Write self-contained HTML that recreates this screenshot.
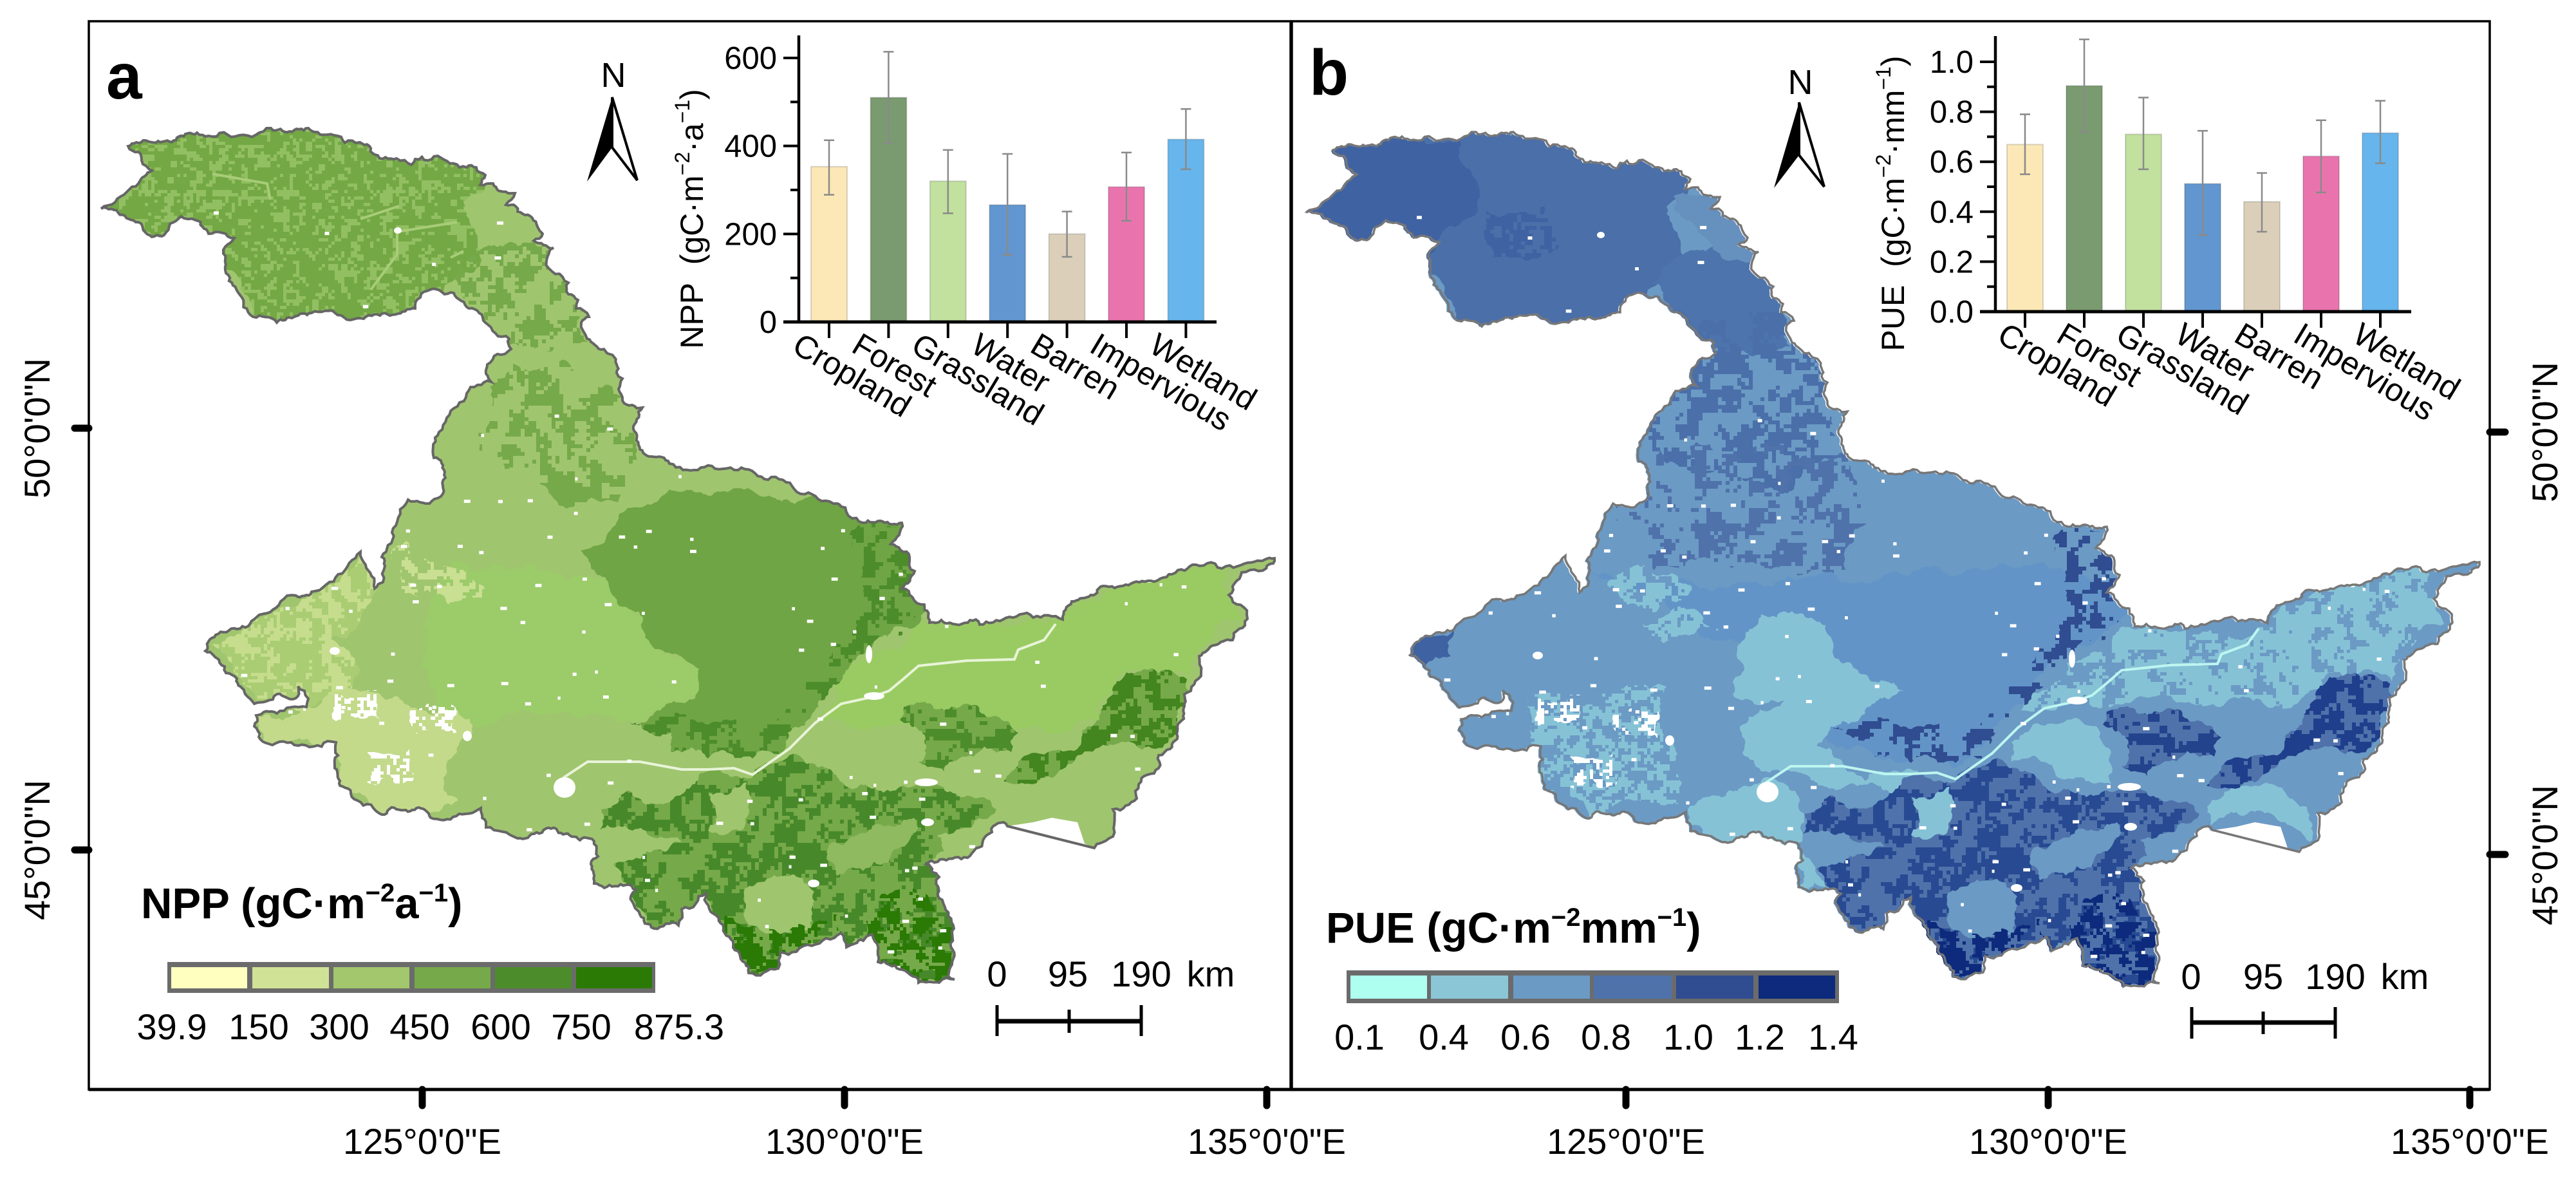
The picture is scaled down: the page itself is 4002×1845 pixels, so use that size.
<!DOCTYPE html>
<html lang="en">
<head>
<meta charset="utf-8">
<title>NPP and PUE maps</title>
<style>
html,body{margin:0;padding:0;background:#fff}
svg{display:block}
text{font-family:"Liberation Sans",sans-serif;fill:#000}
</style>
</head>
<body>
<svg id="figure" xmlns="http://www.w3.org/2000/svg" width="4002" height="1845" viewBox="0 0 4002 1845">
<defs id="geo">
<path id="region" d="M157,324L197,298L215,285L236,265L220,249L215,236L199,227L226,218L278,212L306,206L324,211L372,210L421,199L479,199L519,210L536,222L559,221L582,240L616,246L639,256L645,247L685,245L725,260L740,260L754,272L746,287L766,285L789,300L800,300L786,318L812,332L835,352L843,363L829,374L860,385L849,405L883,439L883,457L898,466L895,479L915,492L903,501L912,526L958,566L967,588L961,604L967,622L998,633L984,662L992,691L1012,709L1040,720L1084,730L1173,735L1256,765L1301,782L1341,812L1401,812L1384,845L1413,865L1421,887L1401,914L1436,939L1444,967L1516,962L1522,970L1605,959L1651,962L1665,934L1714,910L1783,902L1858,877L1950,872L1980,867L1978,875L1929,889L1909,924L1938,961L1915,994L1863,1019L1866,1044L1840,1078L1829,1136L1818,1163L1800,1173L1800,1193L1769,1218L1766,1240L1729,1257L1723,1302L1700,1317L1565,1283L1559,1277L1533,1297L1510,1325L1439,1342L1459,1362L1482,1442L1473,1516L1483,1521L1459,1526L1427,1526L1364,1494L1355,1451L1341,1461L1315,1471L1307,1449L1212,1479L1209,1504L1163,1511L1149,1481L1113,1422L1097,1387L1059,1412L1054,1437L1016,1442L980,1392L988,1382L923,1372L918,1342L929,1330L915,1302L864,1287L804,1302L755,1285L747,1255L669,1270L647,1255L593,1265L555,1243L528,1220L520,1193L522,1153L509,1151L417,1155L395,1128L398,1111L430,1108L476,1098L473,1073L463,1066L463,1081L430,1078L395,1093L381,1078L368,1054L341,1029L319,1011L335,986L398,959L436,934L484,919L560,857L568,877L582,914L595,904L598,879L593,865L609,827L631,782L634,776L671,778L688,767L691,733L674,711L682,671L694,649L725,611L763,593L757,566L794,542L791,526L754,501L705,455L668,450L645,479L582,488L565,495L484,486L430,501L393,492L372,457L347,394L350,383L364,370L324,363L304,342L281,336L255,365L226,361L215,345Z"/>
<clipPath id="region-clip"><use href="#region"/></clipPath>
<path class="zone" id="z-north" d="M140,340L190,180L700,180L760,280L720,314L737,354L748,403L714,430L691,443L700,480L640,510L400,520L330,400L250,390Z"/>
<path class="zone" id="z-neck" d="M740,390L870,385L900,470L915,530L790,535L715,455L700,430Z"/>
<path class="zone" id="z-mid" d="M790,560L880,560L970,620L990,700L960,780L880,790L800,740L745,700L760,650Z"/>
<path class="zone" id="z-center" d="M967,796L1040,760L1100,770L1180,770L1290,775L1340,805L1410,805L1430,887L1445,939L1420,975L1370,989L1318,1039L1272,1088L1255,1118L1215,1173L1169,1178L1100,1178L1043,1168L1043,1138L978,1123L1032,1098L1086,1068L1086,1039L1010,999L999,959L945,904L902,855L961,800Z"/>
<path class="zone" id="z-center-edge" d="M1320,830L1410,815L1430,887L1445,939L1370,989L1318,1039L1272,1088L1255,1118L1215,1173L1169,1178L1100,1178L1043,1168L1043,1138L978,1123L1040,1100L1100,1125L1180,1125L1250,1060L1300,1000L1340,930L1340,870Z"/>
<path class="zone" id="z-ridge-mid" d="M1404,1098L1467,1103L1525,1108L1582,1138L1571,1168L1490,1178L1467,1198L1427,1183L1439,1158L1398,1118Z"/>
<path class="zone" id="z-ridge-se" d="M1674,1163L1708,1118L1731,1064L1777,1039L1823,1044L1850,1078L1830,1138L1795,1163L1720,1158L1674,1173L1605,1218L1559,1213L1582,1183L1628,1168Z"/>
<path class="zone" id="z-forest" d="M1100,1198L1169,1208L1226,1173L1284,1193L1387,1228L1525,1238L1548,1257L1456,1297L1467,1322L1439,1342L1459,1362L1490,1442L1490,1530L1427,1530L1364,1500L1355,1451L1315,1480L1307,1449L1212,1490L1209,1515L1163,1515L1111,1422L1097,1387L1059,1412L1054,1445L1016,1445L980,1392L988,1382L953,1342L1005,1322L1059,1307L929,1292L934,1257L978,1228L1043,1243L1086,1203Z"/>
<path class="zone" id="z-forest-se" d="M1358,1402L1420,1380L1480,1420L1490,1530L1427,1530L1364,1500Z"/>
<path class="zone" id="z-forest-sw" d="M1100,1420L1160,1440L1215,1450L1300,1420L1320,1460L1210,1490L1205,1515L1160,1515Z"/>
<path class="zone" id="z-hole-1" d="M1100,1230L1160,1215L1150,1290L1100,1290Z"/>
<path class="zone" id="z-hole-2" d="M1157,1380L1220,1360L1265,1385L1260,1440L1190,1450L1155,1420Z"/>
<path class="zone" id="z-hole-3" d="M1290,1310L1360,1280L1420,1270L1380,1340L1300,1360Z"/>
<path class="zone" id="z-sw" d="M395,1113L479,1098L517,1078L625,1088L712,1103L734,1138L701,1178L690,1218L712,1243L669,1262L593,1270L528,1225L515,1153L417,1160Z"/>
<path class="zone" id="z-midnorth" d="M631,840L690,879L761,924L696,939L625,919L609,869Z"/>
<path class="zone" id="z-west" d="M330,1000L400,960L480,925L560,860L590,900L560,960L500,1000L560,1040L520,1090L400,1090L370,1050Z"/>
<path class="zone" id="z-east" d="M1267,1121L1300,1090L1342,1022L1444,967L1646,962L1721,917L1905,882L1916,942L1928,962L1864,1007L1847,1051L1780,1040L1731,1064L1708,1121Z"/>
<path class="zone" id="z-plain" d="M700,870L945,904L1010,999L1086,1039L1086,1068L1000,1121L700,1121L660,1000Z"/>
<path class="zone" id="z-urban-1" d="M520,1073L587,1073L590,1118L522,1120Z"/>
<path class="zone" id="z-urban-2" d="M636,1098L707,1098L710,1140L640,1140Z"/>
<path class="zone" id="z-urban-3" d="M566,1163L636,1163L640,1215L570,1215Z"/>
<path class="zone" id="z-b-center" d="M600,884L1430,884L1445,939L1350,1000L1290,1050L1250,1100L1180,1180L1050,1170L960,1120L1030,1080L960,990L760,960Z"/>
<path class="zone" id="z-b-strip" d="M731,298L790,290L870,385L860,410L777,360Z"/>
<path class="zone" id="z-b-band" d="M700,480L900,480L975,620L1000,700L900,760L680,720L670,640Z"/>
<path class="zone" id="z-b-blobs" d="M690,700L1000,700L1050,760L1000,880L700,880L640,800Z"/>
<path class="zone" id="z-b-nw" d="M140,340L190,210L400,205L430,300L400,340L350,390L250,380Z"/>
<path class="zone" id="z-b-nwc" d="M430,320L530,310L550,380L460,400Z"/>
<path class="zone" id="z-b-east" d="M1267,1096L1342,1022L1440,967L1646,962L1721,917L1905,882L1916,942L1928,962L1864,1007L1847,1051L1750,1037L1704,1081L1537,1086L1445,1081L1399,1091L1296,1096Z"/>
<path class="zone" id="z-b-river" d="M1256,1146L1296,1116L1388,1121L1411,1161L1411,1211L1371,1206L1319,1181L1256,1176Z"/>
<path class="zone" id="z-b-coast" d="M1560,1246L1646,1211L1715,1246L1720,1300L1675,1270L1566,1275Z"/>
<path class="zone" id="z-b-light" d="M823,1052L867,947L915,942L975,982L991,1022L1040,1052L1089,1066L1040,1086L975,1121L953,1151L986,1171L1029,1206L1110,1190L1130,1225L920,1191L867,1191L834,1121L904,1081L823,1071Z"/>
<path class="zone" id="z-b-strip2" d="M753,1250L856,1211L920,1221L931,1300L920,1320L926,1375L975,1370L948,1335L791,1300L753,1275Z"/>
<path class="zone" id="z-b-mid1" d="M628,902L693,878L758,902L747,927L660,932Z"/>
<path class="zone" id="z-b-mid2" d="M682,962L769,942L823,972L715,992Z"/>
<path class="zone" id="z-b-swmix" d="M510,1070L720,1060L730,1180L740,1240L600,1260L525,1210L510,1150Z"/>
<path class="zone" id="z-b-far" d="M319,1012L341,982L390,972L385,1012L346,1032Z"/>
<path id="river" d="M1640,969L1622,994L1582,1009L1576,1024L1502,1026L1427,1034L1404,1054L1381,1073L1353,1083L1307,1093L1266,1123L1226,1163L1169,1203L1140,1193L1100,1195L1059,1195L994,1183L913,1183L875,1208"/>
<path id="bay" d="M1565,1283L1605,1277L1634,1270L1674,1277L1685,1310L1700,1317Z"/>
</defs>

<rect width="4002" height="1845" fill="#fff"/>

<g id="panel-a">
  <g>
    <g clip-path="url(#region-clip)">
      <rect x="100" y="150" width="1950" height="1450" fill="#a0c56f"/>
      <use href="#z-east" fill="#9acb63"/>
      <use href="#z-plain" fill="#9ccb69"/>
      <use href="#z-north" fill="#73a845"/>
      <path class="mottle" data-zone="z-north" data-cell="5" data-scale="9" data-thr="0.58" data-seed="11" fill="#92bf62"/>
      <path class="mottle" data-zone="z-neck" data-cell="6" data-scale="22" data-thr="0.5" data-seed="12" fill="#76a949"/>
      <path class="mottle" data-zone="z-mid" data-cell="6" data-scale="20" data-thr="0.53" data-seed="13" fill="#76a949"/>
      <use href="#z-center" fill="#6fa544"/>
      <path class="mottle" data-zone="z-center-edge" data-cell="6" data-scale="18" data-thr="0.5" data-seed="14" fill="#4d8c2b"/>
      <use href="#z-west" fill="#aacd74"/>
      <path class="mottle" data-zone="z-west" data-cell="5" data-scale="14" data-thr="0.5" data-seed="15" fill="#c6dd8e"/>
      <use href="#z-sw" fill="#c3da8b"/>
      <path class="mottle" data-zone="z-midnorth" data-cell="5" data-scale="10" data-thr="0.46" data-seed="16" fill="#c9df92"/>
      <use href="#z-ridge-mid" fill="#76a949"/>
      <path class="mottle" data-zone="z-ridge-mid" data-cell="6" data-scale="16" data-thr="0.5" data-seed="17" fill="#4d8c2b"/>
      <use href="#z-ridge-se" fill="#76a949"/>
      <path class="mottle" data-zone="z-ridge-se" data-cell="6" data-scale="16" data-thr="0.48" data-seed="18" fill="#43851f"/>
      <use href="#z-forest" fill="#76a949"/>
      <path class="mottle" data-zone="z-forest" data-cell="6" data-scale="18" data-thr="0.51" data-seed="19" fill="#47892a"/>
      <use href="#z-hole-1" fill="#a0c56f"/>
      <use href="#z-hole-2" fill="#a0c56f"/>
      <use href="#z-hole-3" fill="#8fba5f"/>
      <path class="mottle" data-zone="z-forest-se" data-cell="5" data-scale="14" data-thr="0.46" data-seed="20" fill="#2a7a05"/>
      <path class="mottle" data-zone="z-forest-sw" data-cell="5" data-scale="14" data-thr="0.48" data-seed="21" fill="#2a7a05"/>
      <path d="M330,270L415,285L420,310M617,360L617,395L576,450M617,360L710,345M560,340L620,320M700,400L720,390" fill="none" stroke="#a8cc78" stroke-width="4"/>
      <use href="#river" fill="none" stroke="#e8f4d8" stroke-width="4"/>
      <path class="mottle" data-zone="z-urban-1" data-cell="5" data-scale="9" data-thr="0.47" data-seed="31" fill="#fff"/>
      <path class="mottle" data-zone="z-urban-2" data-cell="5" data-scale="9" data-thr="0.47" data-seed="32" fill="#fff"/>
      <path class="mottle" data-zone="z-urban-3" data-cell="5" data-scale="9" data-thr="0.5" data-seed="33" fill="#fff"/>
      <path class="specks" fill="#fff"/>
      <g fill="#fff">
        <ellipse cx="877" cy="1223" rx="17" ry="16"/><ellipse cx="726" cy="1143" rx="7" ry="8"/><ellipse cx="520" cy="1011" rx="8" ry="6"/><ellipse cx="1439" cy="1215" rx="18" ry="6"/><ellipse cx="1358" cy="1081" rx="16" ry="6"/><ellipse cx="1350" cy="1016" rx="5" ry="14"/><ellipse cx="1264" cy="1372" rx="9" ry="6"/><ellipse cx="1441" cy="1277" rx="10" ry="6"/><ellipse cx="618" cy="358" rx="6" ry="5"/>
      </g>
      <use href="#bay" fill="#fff"/>
    </g>
    <use href="#region" fill="none" stroke="#666" stroke-width="4"/>
  </g>
</g>

<g id="panel-b" transform="translate(1869,7)">
  <g>
    <g clip-path="url(#region-clip)">
      <rect x="100" y="150" width="1950" height="1450" fill="#6b9ac4"/>
      <use href="#z-b-center" fill="#6394c7"/>
      <use href="#z-north" fill="#4a6fa9"/>
      <use href="#z-neck" fill="#4d74ac"/>
      <use href="#z-b-strip" fill="#6690bd"/>
      <path class="mottle" data-zone="z-b-band" data-cell="6" data-scale="20" data-thr="0.5" data-seed="41" fill="#4a6fa9"/>
      <path class="mottle" data-zone="z-b-blobs" data-cell="6" data-scale="22" data-thr="0.56" data-seed="42" fill="#4f72ab"/>
      <use href="#z-b-nw" fill="#3f62a2"/>
      <path class="mottle" data-zone="z-b-nwc" data-cell="6" data-scale="14" data-thr="0.46" data-seed="43" fill="#3f62a2"/>
      <use href="#z-b-east" fill="#86c2d6"/>
      <path class="mottle" data-zone="z-b-east" data-cell="5" data-scale="18" data-thr="0.58" data-seed="44" fill="#6b9ac4"/>
      <use href="#z-b-river" fill="#86c2d6"/>
      <use href="#z-b-coast" fill="#86c2d6"/>
      <use href="#z-b-light" fill="#86c2d6"/>
      <use href="#z-b-strip2" fill="#86c2d6"/>
      <path class="mottle" data-zone="z-b-mid1" data-cell="5" data-scale="9" data-thr="0.45" data-seed="45" fill="#86c2d6"/>
      <path class="mottle" data-zone="z-b-mid2" data-cell="5" data-scale="9" data-thr="0.45" data-seed="46" fill="#86c2d6"/>
      <path class="mottle" data-zone="z-b-swmix" data-cell="5" data-scale="10" data-thr="0.48" data-seed="47" fill="#86c2d6"/>
      <use href="#z-b-far" fill="#3f62a2"/>
      <path class="mottle" data-zone="z-center-edge" data-cell="6" data-scale="18" data-thr="0.5" data-seed="14" fill="#2f4d90"/>
      <use href="#z-ridge-mid" fill="#4f72ab"/>
      <path class="mottle" data-zone="z-ridge-mid" data-cell="6" data-scale="16" data-thr="0.5" data-seed="17" fill="#23438c"/>
      <use href="#z-ridge-se" fill="#4f72ab"/>
      <path class="mottle" data-zone="z-ridge-se" data-cell="6" data-scale="16" data-thr="0.48" data-seed="18" fill="#1f3f8c"/>
      <use href="#z-forest" fill="#4f72ab"/>
      <path class="mottle" data-zone="z-forest" data-cell="6" data-scale="18" data-thr="0.51" data-seed="19" fill="#274a92"/>
      <use href="#z-hole-1" fill="#86c2d6"/>
      <use href="#z-hole-2" fill="#6b9ac4"/>
      <use href="#z-hole-3" fill="#6b9ac4"/>
      <path class="mottle" data-zone="z-forest-se" data-cell="5" data-scale="14" data-thr="0.46" data-seed="20" fill="#0d2a7c"/>
      <path class="mottle" data-zone="z-forest-sw" data-cell="5" data-scale="14" data-thr="0.48" data-seed="21" fill="#0d2a7c"/>
      <use href="#river" fill="none" stroke="#bdf5f0" stroke-width="4"/>
      <path class="mottle" data-zone="z-urban-1" data-cell="5" data-scale="9" data-thr="0.5" data-seed="31" fill="#fff"/>
      <path class="mottle" data-zone="z-urban-2" data-cell="5" data-scale="9" data-thr="0.5" data-seed="32" fill="#fff"/>
      <path class="mottle" data-zone="z-urban-3" data-cell="5" data-scale="9" data-thr="0.52" data-seed="33" fill="#fff"/>
      <path class="specks" fill="#fff"/>
      <g fill="#fff">
        <ellipse cx="877" cy="1223" rx="17" ry="16"/><ellipse cx="725" cy="1143" rx="7" ry="8"/><ellipse cx="520" cy="1011" rx="8" ry="6"/><ellipse cx="1439" cy="1215" rx="18" ry="6"/><ellipse cx="1358" cy="1081" rx="16" ry="6"/><ellipse cx="1350" cy="1016" rx="5" ry="14"/><ellipse cx="1264" cy="1372" rx="9" ry="6"/><ellipse cx="1441" cy="1277" rx="10" ry="6"/><ellipse cx="618" cy="358" rx="6" ry="5"/>
      </g>
      <use href="#bay" fill="#fff"/>
    </g>
    <use href="#region" transform="translate(3,-1)" fill="none" stroke="#777" stroke-width="3.5"/>
  </g>
</g>

<g fill="none" stroke="#000">
  <rect x="138" y="33" width="1868" height="1659" stroke-width="3.5"/>
  <rect x="2006" y="33" width="1862" height="1659" stroke-width="3.5"/>
  <line x1="2006" y1="33" x2="2006" y2="1692" stroke-width="5.5"/>
  <line x1="138" y1="1692" x2="3868" y2="1692" stroke-width="5"/>
</g>

<g stroke="#000" stroke-width="11" stroke-linecap="round">
  <line x1="116" y1="665" x2="138" y2="665"/>
  <line x1="116" y1="1320" x2="138" y2="1320"/>
  <line x1="656" y1="1692" x2="656" y2="1717"/>
  <line x1="1312" y1="1692" x2="1312" y2="1717"/>
  <line x1="1968" y1="1692" x2="1968" y2="1717"/>
  <line x1="2526" y1="1692" x2="2526" y2="1717"/>
  <line x1="3182" y1="1692" x2="3182" y2="1717"/>
  <line x1="3837" y1="1692" x2="3837" y2="1717"/>
  <line x1="3868" y1="671" x2="3892" y2="671"/>
  <line x1="3868" y1="1327" x2="3892" y2="1327"/>
</g>
<g font-size="56">
  <text x="656" y="1792" text-anchor="middle">125°0'0"E</text>
  <text x="1312" y="1792" text-anchor="middle">130°0'0"E</text>
  <text x="1968" y="1792" text-anchor="middle">135°0'0"E</text>
  <text x="2526" y="1792" text-anchor="middle">125°0'0"E</text>
  <text x="3182" y="1792" text-anchor="middle">130°0'0"E</text>
  <text x="3837" y="1792" text-anchor="middle">135°0'0"E</text>
  <text text-anchor="middle" transform="translate(77,665) rotate(-90)">50°0'0"N</text>
  <text text-anchor="middle" transform="translate(77,1320) rotate(-90)">45°0'0"N</text>
  <text text-anchor="middle" transform="translate(3973,671) rotate(-90)">50°0'0"N</text>
  <text text-anchor="middle" transform="translate(3973,1328) rotate(-90)">45°0'0"N</text>
</g>

<text x="165" y="153" font-size="100" font-weight="700">a</text>
<text x="2034" y="147" font-size="100" font-weight="700">b</text>

<g>
  <text x="953" y="135" font-size="54" text-anchor="middle">N</text>
  <polygon points="951,151 912,282 951,229"/>
  <polygon points="951,151 990,280 951,229" fill="#fff" stroke="#000" stroke-width="4"/>
</g>
<g>
  <text x="2797" y="146" font-size="54" text-anchor="middle">N</text>
  <polygon points="2795,159 2756,292 2795,241"/>
  <polygon points="2795,159 2834,290 2795,241" fill="#fff" stroke="#000" stroke-width="4"/>
</g>

<g>
  <text x="219" y="1426" font-size="67" font-weight="700">NPP (gC·m<tspan font-size="40" dy="-26">−2</tspan><tspan dy="26">a</tspan><tspan font-size="40" dy="-26">−1</tspan><tspan dy="26">)</tspan></text>
  <rect x="260" y="1494" width="758" height="48" fill="#6b6b6b"/>
  <rect x="266" y="1502" width="118" height="33" fill="#ffffc0"/>
  <rect x="392" y="1502" width="119" height="33" fill="#d0e296"/>
  <rect x="518" y="1502" width="118" height="33" fill="#a3c76d"/>
  <rect x="644" y="1502" width="118" height="33" fill="#76a949"/>
  <rect x="769" y="1502" width="119" height="33" fill="#4d8c2b"/>
  <rect x="895" y="1502" width="118" height="33" fill="#2a7a05"/>
  <g font-size="56" text-anchor="middle">
    <text x="267" y="1614">39.9</text>
    <text x="402" y="1614">150</text>
    <text x="527" y="1614">300</text>
    <text x="652" y="1614">450</text>
    <text x="778" y="1614">600</text>
    <text x="903" y="1614">750</text>
    <text x="1055" y="1614">875.3</text>
  </g>
</g>

<g>
  <text x="2060" y="1464" font-size="67" font-weight="700">PUE (gC·m<tspan font-size="40" dy="-26">−2</tspan><tspan dy="26">mm</tspan><tspan font-size="40" dy="-26">−1</tspan><tspan dy="26">)</tspan></text>
  <rect x="2092" y="1507" width="765" height="51" fill="#6b6b6b"/>
  <rect x="2098" y="1515" width="119" height="36" fill="#aefff0"/>
  <rect x="2223" y="1515" width="120" height="36" fill="#8bc6d6"/>
  <rect x="2351" y="1515" width="119" height="36" fill="#6b9ac4"/>
  <rect x="2476" y="1515" width="121" height="36" fill="#4f72ab"/>
  <rect x="2604" y="1515" width="120" height="36" fill="#2f4d90"/>
  <rect x="2732" y="1515" width="119" height="36" fill="#0d2a7c"/>
  <g font-size="56" text-anchor="middle">
    <text x="2112" y="1630">0.1</text>
    <text x="2243" y="1630">0.4</text>
    <text x="2370" y="1630">0.6</text>
    <text x="2495" y="1630">0.8</text>
    <text x="2623" y="1630">1.0</text>
    <text x="2734" y="1630">1.2</text>
    <text x="2848" y="1630">1.4</text>
  </g>
</g>

<g>
  <g font-size="56" text-anchor="middle">
    <text x="1549" y="1532">0</text>
    <text x="1659" y="1532">95</text>
    <text x="1773" y="1532">190</text>
    <text x="1881" y="1532">km</text>
  </g>
  <line x1="1549" y1="1586" x2="1773" y2="1586" stroke="#000" stroke-width="7"/>
  <line x1="1549" y1="1561" x2="1549" y2="1609" stroke="#000" stroke-width="5"/>
  <line x1="1661" y1="1568" x2="1661" y2="1604" stroke="#000" stroke-width="5"/>
  <line x1="1773" y1="1561" x2="1773" y2="1609" stroke="#000" stroke-width="5"/>
</g>
<g>
  <g font-size="56" text-anchor="middle">
    <text x="3404" y="1536">0</text>
    <text x="3516" y="1536">95</text>
    <text x="3628" y="1536">190</text>
    <text x="3736" y="1536">km</text>
  </g>
  <line x1="3405" y1="1588" x2="3628" y2="1588" stroke="#000" stroke-width="7"/>
  <line x1="3405" y1="1564" x2="3405" y2="1613" stroke="#000" stroke-width="5"/>
  <line x1="3516" y1="1571" x2="3516" y2="1606" stroke="#000" stroke-width="5"/>
  <line x1="3628" y1="1564" x2="3628" y2="1613" stroke="#000" stroke-width="5"/>
</g>

<g id="npp-chart">
  <text text-anchor="middle" font-size="50" transform="translate(1092,340) rotate(-90)">NPP&#160;&#160;(gC·m<tspan font-size="32" dy="-21">−2</tspan><tspan dy="21">·a</tspan><tspan font-size="32" dy="-21">−1</tspan><tspan dy="21">)</tspan></text>
</g>
<g id="pue-chart">
  <text text-anchor="middle" font-size="50" transform="translate(2958,316) rotate(-90)">PUE&#160;&#160;(gC·m<tspan font-size="32" dy="-21">−2</tspan><tspan dy="21">·mm</tspan><tspan font-size="32" dy="-21">−1</tspan><tspan dy="21">)</tspan></text>
</g>
</svg>

<script>
var categories = ['Cropland', 'Forest', 'Grassland', 'Water', 'Barren', 'Impervious', 'Wetland'];
var nppValues = [353, 510, 320, 266, 200, 307, 415];
var nppUpper = [413, 614, 391, 382, 251, 385, 484];
var nppLower = [289, 406, 247, 152, 148, 230, 347];
var nppTicks = [0, 200, 400, 600];
var nppTickLabels = ['0', '200', '400', '600'];
var nppMinorTicks = [100, 300, 500];
var pueValues = [0.669, 0.904, 0.71, 0.512, 0.44, 0.622, 0.715];
var pueUpper = [0.79, 1.09, 0.857, 0.724, 0.555, 0.766, 0.844];
var pueLower = [0.55, 0.72, 0.57, 0.306, 0.32, 0.477, 0.594];
var pueTicks = [0, 0.2, 0.4, 0.6, 0.8, 1.0];
var pueTickLabels = ['0.0', '0.2', '0.4', '0.6', '0.8', '1.0'];
var pueMinorTicks = [0.1, 0.3, 0.5, 0.7, 0.9];
var barColors = ['#fbe8b6', '#7a9b6f', '#c2e09e', '#6296d0', '#dccfba', '#e974ad', '#66b5ec'];

var SVG_NS = 'http://www.w3.org/2000/svg';

/* ---------- map texture helpers (geometry only, not chart data) ---------- */
function fract(v) { return v - Math.floor(v); }
function hash2(x, y, seed) { return fract(Math.sin(x * 127.1 + y * 311.7 + seed * 74.7) * 43758.5453); }
function smooth(t) { return t * t * (3 - 2 * t); }
function valueNoise(x, y, seed) {
  var ix = Math.floor(x), iy = Math.floor(y);
  var fx = smooth(x - ix), fy = smooth(y - iy);
  var a = hash2(ix, iy, seed), b = hash2(ix + 1, iy, seed);
  var c = hash2(ix, iy + 1, seed), d = hash2(ix + 1, iy + 1, seed);
  return (a + (b - a) * fx) * (1 - fy) + (c + (d - c) * fx) * fy;
}
function fieldAt(x, y, scale, seed) {
  return 0.55 * valueNoise(x / scale, y / scale, seed) +
         0.3 * valueNoise(x / (scale * 0.4), y / (scale * 0.4), seed + 5) +
         0.15 * hash2(Math.floor(x), Math.floor(y), seed + 9);
}
function parsePoints(d) {
  return d.replace(/[MZ]/g, '').split('L').map(function (p) { return p.split(',').map(Number); });
}
function roughSegment(a, b, amp, minLen, out) {
  var dx = b[0] - a[0], dy = b[1] - a[1], len = Math.sqrt(dx * dx + dy * dy);
  if (len < minLen) { out.push(a); return; }
  var h = hash2(Math.round(a[0] + b[0]), Math.round(a[1] + b[1]), 3) - 0.5;
  var off = Math.max(-amp, Math.min(amp, h * len * 0.45));
  var m = [(a[0] + b[0]) / 2 - dy / len * off, (a[1] + b[1]) / 2 + dx / len * off];
  roughSegment(a, m, amp, minLen, out);
  roughSegment(m, b, amp, minLen, out);
}
function roughen(path, amp, minLen, keepLong) {
  var pts = parsePoints(path.getAttribute('d')), out = [];
  pts.forEach(function (a, i) {
    var b = pts[(i + 1) % pts.length];
    var len = Math.hypot(b[0] - a[0], b[1] - a[1]);
    if (keepLong && len > keepLong) { out.push(a); }
    else { roughSegment(a, b, amp, minLen, out); }
  });
  path.setAttribute('d', 'M' + out.map(function (p) { return p[0].toFixed(1) + ',' + p[1].toFixed(1); }).join('L') + 'Z');
}

var zoneBounds = {};
document.querySelectorAll('path.zone').forEach(function (p) {
  var pts = parsePoints(p.getAttribute('d'));
  var xs = pts.map(function (q) { return q[0]; }), ys = pts.map(function (q) { return q[1]; });
  zoneBounds[p.id] = [Math.min.apply(null, xs) - 20, Math.min.apply(null, ys) - 20, Math.max.apply(null, xs) + 20, Math.max.apply(null, ys) + 20];
  roughen(p, 14, 7);
  var clip = document.createElementNS(SVG_NS, 'clipPath');
  clip.setAttribute('id', 'clip-' + p.id);
  var ref = document.createElementNS(SVG_NS, 'use');
  ref.setAttribute('href', '#' + p.id);
  clip.appendChild(ref);
  document.getElementById('geo').appendChild(clip);
});
roughen(document.getElementById('region'), 5, 7, 100);

document.querySelectorAll('path.mottle').forEach(function (p) {
  var zone = p.getAttribute('data-zone');
  var cell = +p.getAttribute('data-cell'), scale = +p.getAttribute('data-scale');
  var thr = +p.getAttribute('data-thr'), seed = +p.getAttribute('data-seed');
  var box = zoneBounds[zone], d = [];
  for (var y = box[1]; y < box[3]; y += cell) {
    var start = null;
    for (var x = box[0]; x <= box[2]; x += cell) {
      var on = x < box[2] && fieldAt(x, y, scale, seed) > thr;
      if (on && start === null) { start = x; }
      if (!on && start !== null) {
        d.push('M' + start + ',' + y + 'H' + x + 'V' + (y + cell) + 'H' + start + 'Z');
        start = null;
      }
    }
  }
  p.setAttribute('d', d.join(''));
  p.setAttribute('clip-path', 'url(#clip-' + zone + ')');
});

document.querySelectorAll('path.specks').forEach(function (p) {
  var d = [];
  for (var y = 200; y < 1530; y += 38) {
    for (var x = 160; x < 1980; x += 38) {
      var density = y < 520 ? 0.05 : 0.2;
      if (hash2(x, y, 51) < density) {
        var px = x + hash2(x, y, 52) * 30, py = y + hash2(x, y, 53) * 30;
        var w = 4 + hash2(x, y, 54) * 7;
        d.push('M' + px.toFixed(1) + ',' + py.toFixed(1) + 'h' + w.toFixed(1) + 'v5h-' + w.toFixed(1) + 'z');
      }
    }
  }
  p.setAttribute('d', d.join(''));
});

/* ---------- inset bar charts ---------- */
function make(parent, tag, attrs, text) {
  var node = document.createElementNS(SVG_NS, tag);
  for (var key in attrs) { node.setAttribute(key, attrs[key]); }
  if (text !== undefined) { node.textContent = text; }
  parent.appendChild(node);
  return node;
}

function drawChart(cfg) {
  var root = document.getElementById(cfg.id);
  var yPos = function (v) { return cfg.yZero - v * cfg.yPerUnit; };
  var xPos = function (i) { return cfg.xFirst + i * cfg.xStep; };
  var el;

  for (var i = 0; i < categories.length; i++) {
    var cx = xPos(i);
    var top = yPos(cfg.values[i]);
    el = make(root, 'rect', { x: cx - 28, y: top, width: 56, height: cfg.yZero - top, fill: barColors[i], stroke: '#000', 'stroke-opacity': 0.15, 'stroke-width': 2 });
    
    
    var yUp = yPos(cfg.upper[i]);
    var yLow = yPos(cfg.lower[i]);
    el = make(root, 'path', { d: 'M' + (cx - 8) + ',' + yUp + 'H' + (cx + 8) + 'M' + cx + ',' + yUp + 'V' + yLow + 'M' + (cx - 8) + ',' + yLow + 'H' + (cx + 8), fill: 'none', stroke: '#8a8a8a', 'stroke-width': 2.5 });
    
    
    el = make(root, 'line', { x1: cx, y1: cfg.yZero, x2: cx, y2: cfg.yZero + 25, stroke: '#000', 'stroke-width': 4 });
    
    
    el = make(root, 'text', { 'font-size': 50, transform: 'translate(' + (cx + cfg.labelDx) + ',' + (cfg.yZero + 45) + ') rotate(31)' }, categories[i]);
    
    
  }

  cfg.ticks.forEach(function (v, k) {
    var tick = make(root, 'line', { x1: cfg.axisX - 24, y1: yPos(v), x2: cfg.axisX, y2: yPos(v), stroke: '#000', 'stroke-width': 4 });
    
    
    var lab = make(root, 'text', { x: cfg.axisX - 34, y: yPos(v) + 17, 'font-size': 49, 'text-anchor': 'end' }, cfg.tickLabels[k]);
    
    
  });
  cfg.minor.forEach(function (v) {
    var tick = make(root, 'line', { x1: cfg.axisX - 13, y1: yPos(v), x2: cfg.axisX, y2: yPos(v), stroke: '#000', 'stroke-width': 4 });
    
    
  });

  el = make(root, 'line', { x1: cfg.axisX, y1: cfg.axisTop, x2: cfg.axisX, y2: cfg.yZero + 2, stroke: '#000', 'stroke-width': 4.5 });
  
  
  el = make(root, 'line', { x1: cfg.axisX - 24, y1: cfg.yZero, x2: cfg.axisRight, y2: cfg.yZero, stroke: '#000', 'stroke-width': 5 });
  
  
}

drawChart({ id: 'npp-chart', prefix: 'npp', values: nppValues, upper: nppUpper, lower: nppLower, ticks: nppTicks, tickLabels: nppTickLabels, minor: nppMinorTicks, yZero: 500, yPerUnit: 410 / 600, xFirst: 1288, xStep: 92.4, axisX: 1241, axisTop: 55, axisRight: 1890, labelDx: -60 });
drawChart({ id: 'pue-chart', prefix: 'pue', values: pueValues, upper: pueUpper, lower: pueLower, ticks: pueTicks, tickLabels: pueTickLabels, minor: pueMinorTicks, yZero: 484, yPerUnit: 388, xFirst: 3146, xStep: 92, axisX: 3100, axisTop: 56, axisRight: 3746, labelDx: -46 });
</script>
</body>
</html>
